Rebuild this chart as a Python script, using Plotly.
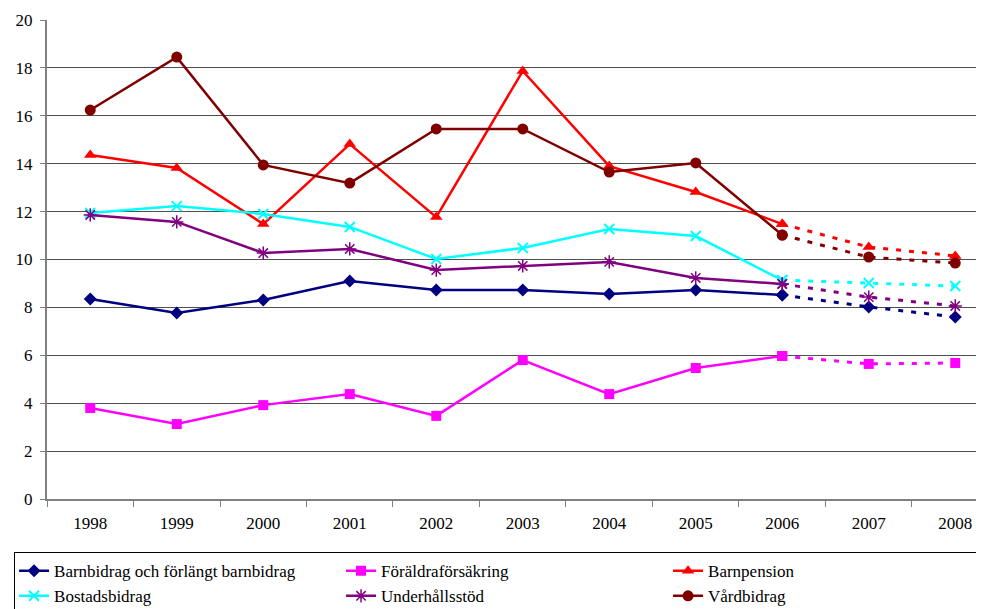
import plotly.graph_objects as go

years = ["1998", "1999", "2000", "2001", "2002", "2003", "2004", "2005", "2006", "2007", "2008"]
barnbidrag = [8.35, 7.77, 8.31, 9.10, 8.73, 8.73, 8.56, 8.73, 8.52, 8.02, 7.60]
foraldraforsakring = [3.80, 3.13, 3.92, 4.38, 3.47, 5.80, 4.38, 5.47, 5.97, 5.64, 5.68]
barnpension = [14.36, 13.82, 11.48, 14.82, 11.77, 17.87, 13.90, 12.82, 11.48, 10.52, 10.15]
bostadsbidrag = [11.94, 12.23, 11.90, 11.36, 10.02, 10.48, 11.27, 10.98, 9.14, 9.02, 8.89]
underhallsstod = [11.86, 11.57, 10.27, 10.44, 9.56, 9.73, 9.90, 9.23, 8.98, 8.43, 8.06]
vardbidrag = [16.24, 18.45, 13.95, 13.19, 15.45, 15.45, 13.65, 14.03, 11.02, 10.10, 9.85]
y_ticks = [0, 2, 4, 6, 8, 10, 12, 14, 16, 18, 20]

series = [
    ("Barnbidrag och förlängt barnbidrag", barnbidrag, "#000080", "diamond", 10, 0),
    ("Föräldraförsäkring", foraldraforsakring, "#FF00FF", "square", 10, 0),
    ("Barnpension", barnpension, "#FF0000", "triangle-up", 11, 0),
    ("Bostadsbidrag", bostadsbidrag, "#00FFFF", "x-thin-open", 10, 2),
    ("Underhållsstöd", underhallsstod, "#800080", "asterisk-open", 11, 1.5),
    ("Vårdbidrag", vardbidrag, "#800000", "circle", 11, 0),
]

idx = list(range(len(years)))
split = 8  # 2006 index

fig = go.Figure()
for name, vals, color, sym, size, mlw in series:
    marker = dict(symbol=sym, size=size, color=color, line=dict(color=color, width=mlw))
    fig.add_trace(go.Scatter(
        x=idx[:split + 1], y=vals[:split + 1], name=name, mode="lines+markers",
        line=dict(color=color, width=2.5), marker=marker, legendgroup=name,
    ))
    fig.add_trace(go.Scatter(
        x=idx[split:], y=vals[split:], name=name, mode="lines+markers",
        line=dict(color=color, width=3, dash="5px,8px"), marker=marker,
        legendgroup=name, showlegend=False,
    ))

serif = "Times New Roman, Liberation Serif, DejaVu Serif, serif"
fig.update_layout(
    width=1000, height=601,
    margin=dict(l=39, r=0, t=12, b=110, autoexpand=False),
    plot_bgcolor="white", paper_bgcolor="white",
    font=dict(family=serif, size=17, color="black"),
    showlegend=True,
    legend=dict(
        orientation="h", x=-0.0343, xanchor="left", y=-0.111, yanchor="top",
        bordercolor="black", borderwidth=1, bgcolor="white",
        entrywidth=282, entrywidthmode="pixels", tracegroupgap=0,
        font=dict(family=serif, size=17, color="black"),
    ),
    xaxis=dict(
        range=[-0.5, 10.61], tickmode="array", tickvals=idx, ticktext=years,
        ticks="", showgrid=False, zeroline=False, automargin=False,
        showline=True, linecolor="#808080", linewidth=2,
        ticklabelstandoff=8,
        minor=dict(tick0=-0.5, dtick=1, ticks="outside", ticklen=6, tickcolor="#808080", tickwidth=1, showgrid=False),
    ),
    yaxis=dict(
        range=[0, 20], tickmode="array", tickvals=y_ticks, automargin=False,
        ticks="outside", ticklen=5, tickcolor="#808080",
        showgrid=True, gridcolor="#505050", gridwidth=1,
        zeroline=False, showline=True, linecolor="#808080", linewidth=2,
        ticklabelstandoff=4,
    ),
)

fig.write_html("out.html")
